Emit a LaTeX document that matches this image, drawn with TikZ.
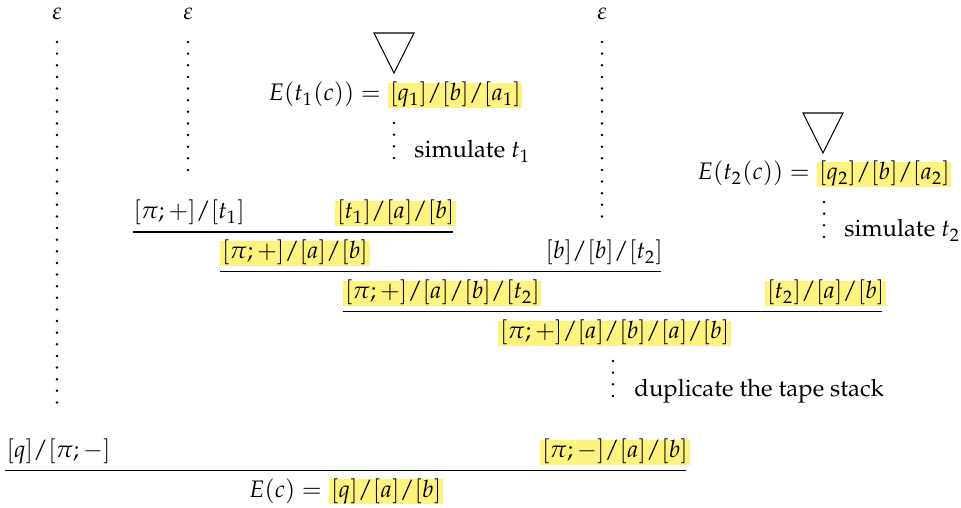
\documentclass[tikz,border=0pt]{standalone}
\usepackage[T1]{fontenc}
\usepackage{mathpazo}
\definecolor{hly}{RGB}{255,243,128}
\newcommand{\sep}{/}
\begin{document}
\begin{tikzpicture}[x=0.4184pt,y=-0.4184pt,
  txt/.style={inner sep=0pt, text height=7.5pt, text depth=3pt, anchor=base west},
  hl/.style={txt, fill=hly, inner xsep=0.7pt},
  epsn/.style={inner sep=0pt, anchor=base},
  dotcol/.style={line width=1.15pt, line cap=round, dash pattern=on 0pt off 4.865pt},
  rulel/.style={line width=0.5pt},
  tri/.style={line width=0.45pt, line join=miter}]
\useasboundingbox (0,0) rectangle (961,508);

% epsilons and long dotted columns
\node[epsn] (eps1) at (57,20) {$\varepsilon$};
\node[epsn] (eps2) at (188,20) {$\varepsilon$};
\node[epsn] (eps3) at (602,20) {$\varepsilon$};
\coordinate (c1a) at (57,42);  \coordinate (c1b) at (57,414);
\coordinate (c2a) at (188,42); \coordinate (c2b) at (188,170);
\coordinate (c3a) at (602,42); \coordinate (c3b) at (602,217);
\draw[dotcol] (c1a) -- (c1b);
\draw[dotcol] (c2a) -- (c2b);
\draw[dotcol] (c3a) -- (c3b);

% E(t1(c))
\node[hl] (et1h) at (388,101) {$[q_1] \sep [b] \sep [a_1]$};
\node[txt,anchor=base east] (et1) at (et1h.base west) {$E(t_1(c)) = {}$};
\coordinate (ap1) at (394,73);
\draw[tri] (ap1) -- ++(-20,-40) -- ++(40,0) -- cycle;
\coordinate (s1a) at (394,123); \coordinate (s1b) at (394,169);
\draw[dotcol] (s1a) -- (s1b);
\node[txt] (sim1) at (414,158) {simulate $t_1$};

% E(t2(c))
\node[hl] (et2h) at (817,180) {$[q_2] \sep [b] \sep [a_2]$};
\node[txt,anchor=base east] (et2) at (et2h.base west) {$E(t_2(c)) = {}$};
\coordinate (ap2) at (823,153);
\draw[tri] (ap2) -- ++(-20,-40) -- ++(40,0) -- cycle;
\coordinate (s2a) at (824,202); \coordinate (s2b) at (824,248);
\draw[dotcol] (s2a) -- (s2b);
\node[txt] (sim2) at (844,237) {simulate $t_2$};

% row 1
\node[txt] (r1a) at (133,219) {$[\pi;+] \sep [t_1]$};
\node[hl] (r1b) at (335,219) {$[t_1] \sep [a] \sep [b]$};
\coordinate (l1a) at (133,232); \coordinate (l1b) at (453,232);
\draw[rulel] (l1a) -- (l1b);

% row 2
\node[hl] (r2a) at (220,259) {$[\pi;+] \sep [a] \sep [b]$};
\node[txt] (r2b) at (545,259) {$[b] \sep [b] \sep [t_2]$};
\coordinate (l2a) at (220,271.5); \coordinate (l2b) at (661,271.5);
\draw[rulel] (l2a) -- (l2b);

% row 3
\node[hl] (r3a) at (343,299) {$[\pi;+] \sep [a] \sep [b] \sep [t_2]$};
\node[hl] (r3b) at (765,299) {$[t_2] \sep [a] \sep [b]$};
\coordinate (l3a) at (343,311.5); \coordinate (l3b) at (882,311.5);
\draw[rulel] (l3a) -- (l3b);

% row 4
\node[hl] (r4) at (498,339) {$[\pi;+] \sep [a] \sep [b] \sep [a] \sep [b]$};
\coordinate (d4a) at (613,361); \coordinate (d4b) at (613,407);
\draw[dotcol] (d4a) -- (d4b);
\node[txt] (dup) at (634,397) {duplicate the tape stack};

% row 5
\node[txt] (r5a) at (6,458) {$[q] \sep [\pi;-]$};
\node[hl] (r5b) at (540,458) {$[\pi;-] \sep [a] \sep [b]$};
\coordinate (l5a) at (5,470.3); \coordinate (l5b) at (686,470.3);
\draw[rulel] (l5a) -- (l5b);

% row 6
\node[hl] (r6h) at (329,497) {$[q] \sep [a] \sep [b]$};
\node[txt,anchor=base east] (r6) at (r6h.base west) {$E(c) = {}$};
\end{tikzpicture}
\end{document}
